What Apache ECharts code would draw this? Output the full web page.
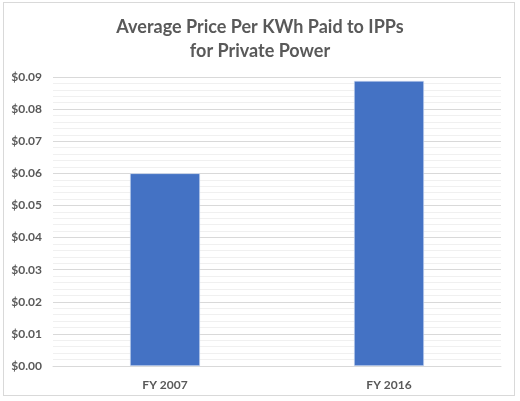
<!DOCTYPE html>
<html>
<head>
<meta charset="utf-8">
<script src="https://cdn.jsdelivr.net/npm/echarts@6/dist/echarts.min.js"></script>
<style>
  html, body { margin: 0; padding: 0; background: #fff; }
  #chart { width: 520px; height: 401px; }
  #frame { position: absolute; left: 3px; top: 2px; width: 512px; height: 394px;
           border: 1px solid #d9d9d9; box-sizing: border-box; pointer-events: none; }
</style>
</head>
<body>
<div id="chart"></div>
<div id="frame"></div>
<script>
// data
const categories = ['FY 2007', 'FY 2016'];
const prices = [0.060, 0.0888];
const yTicks = [0, 0.01, 0.02, 0.03, 0.04, 0.05, 0.06, 0.07, 0.08, 0.09];

const getOption = () => {
    return {
        animation: false,
        title: {
            text: 'Average Price Per KWh Paid to IPPs\nfor Private Power',
            left: 'center',
            top: 10,
            textStyle: {
                fontFamily: 'Lato',
                fontSize: 18,
                fontWeight: 'bold',
                color: '#595959',
                lineHeight: 24
            }
        },
        grid: { left: 53, right: 19, top: 77, bottom: 35 },
        xAxis: {
            type: 'category',
            data: categories,
            axisTick: { show: false },
            axisLine: { lineStyle: { color: '#d9d9d9', width: 1 } },
            axisLabel: {
                color: '#595959',
                fontFamily: 'Lato',
                fontWeight: 'bold',
                fontSize: 12,
                margin: 13
            }
        },
        yAxis: {
            type: 'value',
            min: yTicks[0],
            max: yTicks[yTicks.length - 1],
            interval: 0.01,
            axisLine: { show: false },
            axisTick: { show: false },
            axisLabel: {
                color: '#595959',
                fontFamily: 'Lato',
                fontWeight: 'bold',
                fontSize: 12,
                margin: 11,
                formatter: v => '$' + v.toFixed(2)
            },
            splitLine: { lineStyle: { color: '#d9d9d9', width: 1 } },
            minorTick: { show: false, splitNumber: 5 },
            minorSplitLine: { show: true, lineStyle: { color: '#f0f0f0', width: 1 } }
        },
        series: [
            {
                type: 'bar',
                data: prices,
                barWidth: 70,
                itemStyle: {
                    color: '#4472c4',
                    borderColor: '#dbe4f5',
                    borderWidth: 0.6
                }
            }
        ]
    };
};

window.addEventListener('load', () => {
    const chart = echarts.init(document.getElementById('chart'), null, { renderer: 'canvas' });
    chart.setOption(getOption());
});
</script>
</body>
</html>
